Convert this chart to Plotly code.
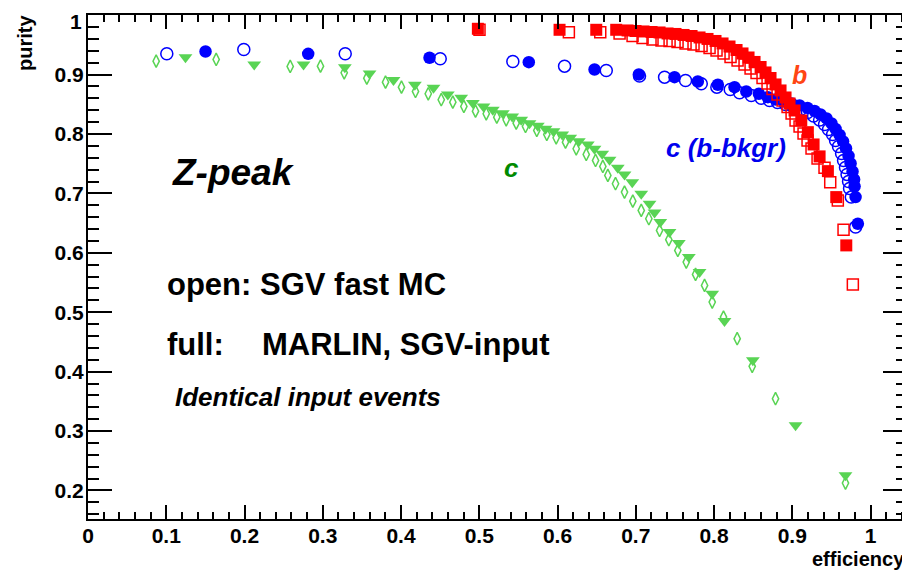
import plotly.graph_objects as go

# ---- data (efficiency, purity) ----
b_marlin_eff = [0.4982, 0.6026, 0.6495, 0.675, 0.6895, 0.6997, 0.7099, 0.7202, 0.7304, 0.7406,
                0.7508, 0.7611, 0.7713, 0.7815, 0.7917, 0.8019, 0.8109, 0.8198, 0.8288, 0.8364,
                0.8441, 0.8518, 0.8595, 0.8658, 0.8722, 0.8786, 0.885, 0.8914, 0.8965, 0.9029,
                0.9115, 0.9199, 0.9272, 0.9349, 0.9455, 0.9562, 0.969]
b_marlin_pur = [0.9771, 0.9754, 0.9754, 0.9754, 0.9743, 0.9734, 0.9726, 0.9717, 0.9709, 0.9692,
                0.9684, 0.9667, 0.965, 0.9625, 0.96, 0.9566, 0.9524, 0.9473, 0.9414, 0.9356,
                0.9288, 0.9213, 0.9128, 0.9036, 0.8943, 0.8834, 0.8733, 0.8615, 0.8514, 0.8396,
                0.8228, 0.8031, 0.7824, 0.7623, 0.7375, 0.6938, 0.6125]

b_sgv_eff = [0.5003, 0.6145, 0.6546, 0.6793, 0.6959, 0.7087, 0.7214, 0.7329, 0.7432, 0.7534,
             0.7636, 0.7738, 0.7841, 0.7943, 0.8032, 0.8122, 0.8211, 0.8301, 0.839, 0.8467,
             0.8543, 0.862, 0.8684, 0.8748, 0.8812, 0.8876, 0.894, 0.8991, 0.9042, 0.9093,
             0.9144, 0.9195, 0.9246, 0.9323, 0.9412, 0.9485, 0.9582, 0.9655, 0.9774]
b_sgv_pur = [0.9754, 0.9714, 0.9714, 0.9692, 0.965, 0.9616, 0.9591, 0.9574, 0.9566, 0.9549,
             0.9524, 0.9507, 0.9482, 0.9448, 0.9406, 0.9356, 0.9297, 0.9238, 0.917, 0.9103,
             0.9027, 0.8943, 0.8851, 0.8758, 0.8666, 0.8565, 0.8455, 0.8346, 0.8228, 0.8127,
             0.8009, 0.7892, 0.7757, 0.7589, 0.7432, 0.719, 0.6882, 0.6389, 0.5469]

cb_marlin_eff = [0.1502, 0.2814, 0.4364, 0.5633, 0.6473, 0.7039, 0.7495, 0.7793, 0.8049, 0.8262,
                 0.8412, 0.8573, 0.8688, 0.8786, 0.8889, 0.8991, 0.9093, 0.9195, 0.9285, 0.9361,
                 0.9438, 0.9502, 0.9553, 0.9604, 0.9649, 0.9687, 0.9719, 0.9745, 0.977, 0.979,
                 0.9796, 0.9809, 0.9838]
cb_marlin_pur = [0.9389, 0.935, 0.9283, 0.9209, 0.9086, 0.9002, 0.8957, 0.8884, 0.8829, 0.8789,
                 0.8716, 0.8677, 0.862, 0.8582, 0.8548, 0.8514, 0.8481, 0.8439, 0.8388, 0.8329,
                 0.8262, 0.8178, 0.8085, 0.7984, 0.7875, 0.7757, 0.7631, 0.7505, 0.737, 0.7235,
                 0.7118, 0.6938, 0.649]

cb_sgv_eff = [0.1007, 0.1991, 0.3287, 0.4501, 0.5429, 0.609, 0.6623, 0.7048, 0.7368, 0.7636,
              0.7837, 0.8036, 0.8207, 0.8326, 0.8476, 0.8603, 0.8709, 0.8812, 0.8914, 0.9016,
              0.9106, 0.9195, 0.9272, 0.9349, 0.9412, 0.9463, 0.9515, 0.9553, 0.9591, 0.963,
              0.9655, 0.968, 0.97, 0.9719, 0.9732, 0.9754, 0.9809]
cb_sgv_pur = [0.935, 0.9423, 0.935, 0.9266, 0.9221, 0.9142, 0.907, 0.8977, 0.8957, 0.8901,
              0.8846, 0.8789, 0.875, 0.8694, 0.8649, 0.8603, 0.8565, 0.8531, 0.8497, 0.8455,
              0.8413, 0.8363, 0.8304, 0.8237, 0.8161, 0.8077, 0.7993, 0.7892, 0.7791, 0.7673,
              0.7555, 0.7437, 0.732, 0.7202, 0.7084, 0.6938, 0.6433]

c_marlin_eff = [0.1246, 0.2124, 0.2754, 0.3282, 0.3598, 0.3904, 0.4177, 0.4415, 0.4598, 0.4769,
                0.4918, 0.5054, 0.5173, 0.5301, 0.5421, 0.5536, 0.5642, 0.5748, 0.5847, 0.5949,
                0.606, 0.6162, 0.6272, 0.6387, 0.6473, 0.6571, 0.6665, 0.677, 0.6856, 0.6955,
                0.707, 0.7176, 0.724, 0.7313, 0.7431, 0.755, 0.7678, 0.7815, 0.7977, 0.8134,
                0.8496, 0.9042, 0.968]
c_marlin_pur = [0.929, 0.917, 0.917, 0.9125, 0.902, 0.891, 0.883, 0.878, 0.8666, 0.861,
                0.852, 0.8464, 0.8408, 0.835, 0.8296, 0.824, 0.8183, 0.8139, 0.8089, 0.8048,
                0.7993, 0.7937, 0.788, 0.7824, 0.7752, 0.7668, 0.7567, 0.7432, 0.732, 0.719,
                0.6995, 0.6827, 0.668, 0.6517, 0.6349, 0.6164, 0.5928, 0.5676, 0.5312, 0.4851,
                0.419, 0.3096, 0.2255]

c_sgv_eff = [0.0871, 0.1638, 0.2584, 0.2971, 0.3274, 0.3563, 0.3802, 0.4006, 0.4185, 0.4348,
             0.4514, 0.4662, 0.4803, 0.4952, 0.5089, 0.5224, 0.5344, 0.5472, 0.5591, 0.5735,
             0.5863, 0.5983, 0.6102, 0.6239, 0.6367, 0.6486, 0.6579, 0.6643, 0.6741, 0.6856,
             0.6962, 0.707, 0.7167, 0.7304, 0.7422, 0.7537, 0.7645, 0.7764, 0.7879, 0.7977,
             0.8121, 0.8296, 0.8488, 0.8786, 0.968]
c_sgv_pur = [0.9226, 0.9255, 0.9137, 0.9142, 0.9031, 0.894, 0.8873, 0.8789, 0.8716, 0.8677,
             0.8577, 0.8536, 0.8464, 0.8385, 0.8341, 0.8284, 0.824, 0.8183, 0.8127, 0.806,
             0.7993, 0.7937, 0.7863, 0.7752, 0.7656, 0.7555, 0.7454, 0.7303, 0.7163, 0.7022,
             0.687, 0.6714, 0.6574, 0.6377, 0.6221, 0.6041, 0.5844, 0.5637, 0.5452, 0.5171,
             0.4918, 0.4555, 0.4089, 0.3545, 0.2125]

x_range = [0.0, 1.0466]
y_range = [0.152, 1.0003]

# y tick values and labels; the top label "1" is drawn as a note so that it
# is not clipped at the top edge of the page
y_tick_vals = [0.2, 0.3, 0.4, 0.5, 0.6, 0.7, 0.8, 0.9, 1.0]
y_tick_text = ["0.2", "0.3", "0.4", "0.5", "0.6", "0.7", "0.8", "0.9", ""]
y_top_label = "1"

FONT = "Liberation Sans, Arial, Helvetica, sans-serif"
RED = "#ff0000"
BLUE = "#0000ff"
GREEN = "#59d454"

fig = go.Figure()

def add(x, y, symbol, color, size, lw=1.5):
    fig.add_trace(go.Scatter(
        x=x, y=y, mode="markers", showlegend=False, hoverinfo="skip",
        marker=dict(symbol=symbol, color=color, size=size,
                    line=dict(color=color, width=lw)),
        cliponaxis=False))

add(c_sgv_eff, c_sgv_pur, "diamond-tall-open", GREEN, 9, 1.5)
add(c_marlin_eff, c_marlin_pur, "triangle-down", GREEN, 12, 0)
add(cb_sgv_eff, cb_sgv_pur, "circle-open", BLUE, 12, 1.5)
add(cb_marlin_eff, cb_marlin_pur, "circle", BLUE, 12.5, 0)
add(b_sgv_eff, b_sgv_pur, "square-open", RED, 11, 1.5)
add(b_marlin_eff, b_marlin_pur, "square", RED, 12, 0)

axis_common = dict(
    showgrid=False, zeroline=False, showline=True, linecolor="black", linewidth=2,
    mirror="ticks", ticks="inside", tickcolor="black", tickwidth=2,
    automargin=False, ticklabeloverflow="allow",
    tickfont=dict(family=FONT, size=21, color="black", weight="bold"),
)

# the page body has an 8px margin, so the figure is 8px smaller than the window
fig.update_layout(
    width=902, height=563,
    margin=dict(l=80, r=3, t=7, b=52, autoexpand=False),
    paper_bgcolor="white", plot_bgcolor="white",
    xaxis=dict(range=x_range, ticklen=14, ticklabelstandoff=-3, tick0=0, dtick=0.1,
               minor=dict(tick0=0, dtick=0.02, ticklen=7, tickwidth=2, ticks="inside",
                          tickcolor="black"),
               **axis_common),
    yaxis=dict(range=y_range, ticklen=24, ticklabelstandoff=-2,
               tickmode="array", tickvals=y_tick_vals, ticktext=y_tick_text,
               minor=dict(tick0=0, dtick=0.02, ticklen=11, tickwidth=2, ticks="inside",
                          tickcolor="black"),
               **axis_common),
    font=dict(family=FONT, color="black"),
)

def note(text, x, y, size, color="black", italic=False, xanchor="left", yanchor="middle",
         angle=0, bold=True, ref="data"):
    fig.add_annotation(
        text=text, x=x, y=y,
        xref="x" if ref == "data" else "paper", yref="y" if ref == "data" else "paper",
        showarrow=False,
        xanchor=xanchor, yanchor=yanchor, textangle=angle,
        font=dict(family=FONT, size=size, color=color,
                  weight="bold" if bold else "normal",
                  style="italic" if italic else "normal"))

note("Z-peak", 0.1042, 0.735, 37, italic=True)
note("c", 0.5285, 0.743, 26, color="#008a00", italic=True)
note("b", 0.8965, 0.8994, 25, color="#ff4513", italic=True)
note("c (b-bkgr)", 0.7367, 0.7757, 26, color="#0000ee", italic=True)
note("open: SGV fast MC", 0.0978, 0.547, 31)
note("full:", 0.0978, 0.445, 31)
note("MARLIN, SGV-input", 0.2192, 0.445, 31)
note("Identical input events", 0.1084, 0.357, 26, italic=True)
# axis titles and top y label (paper coordinates: plot area is 819 px wide, 504 px tall)
note("efficiency", 1.0, (504 - 544) / 504, 20, xanchor="right", ref="paper")
note("purity", (25 - 88) / 819, (504 + 2) / 504, 20, xanchor="center", yanchor="top",
     angle=-90, ref="paper")
note(y_top_label, (84 - 88) / 819, (504 + 7) / 504, 21, xanchor="right", yanchor="top",
     ref="paper")

fig.write_html("out.html")
